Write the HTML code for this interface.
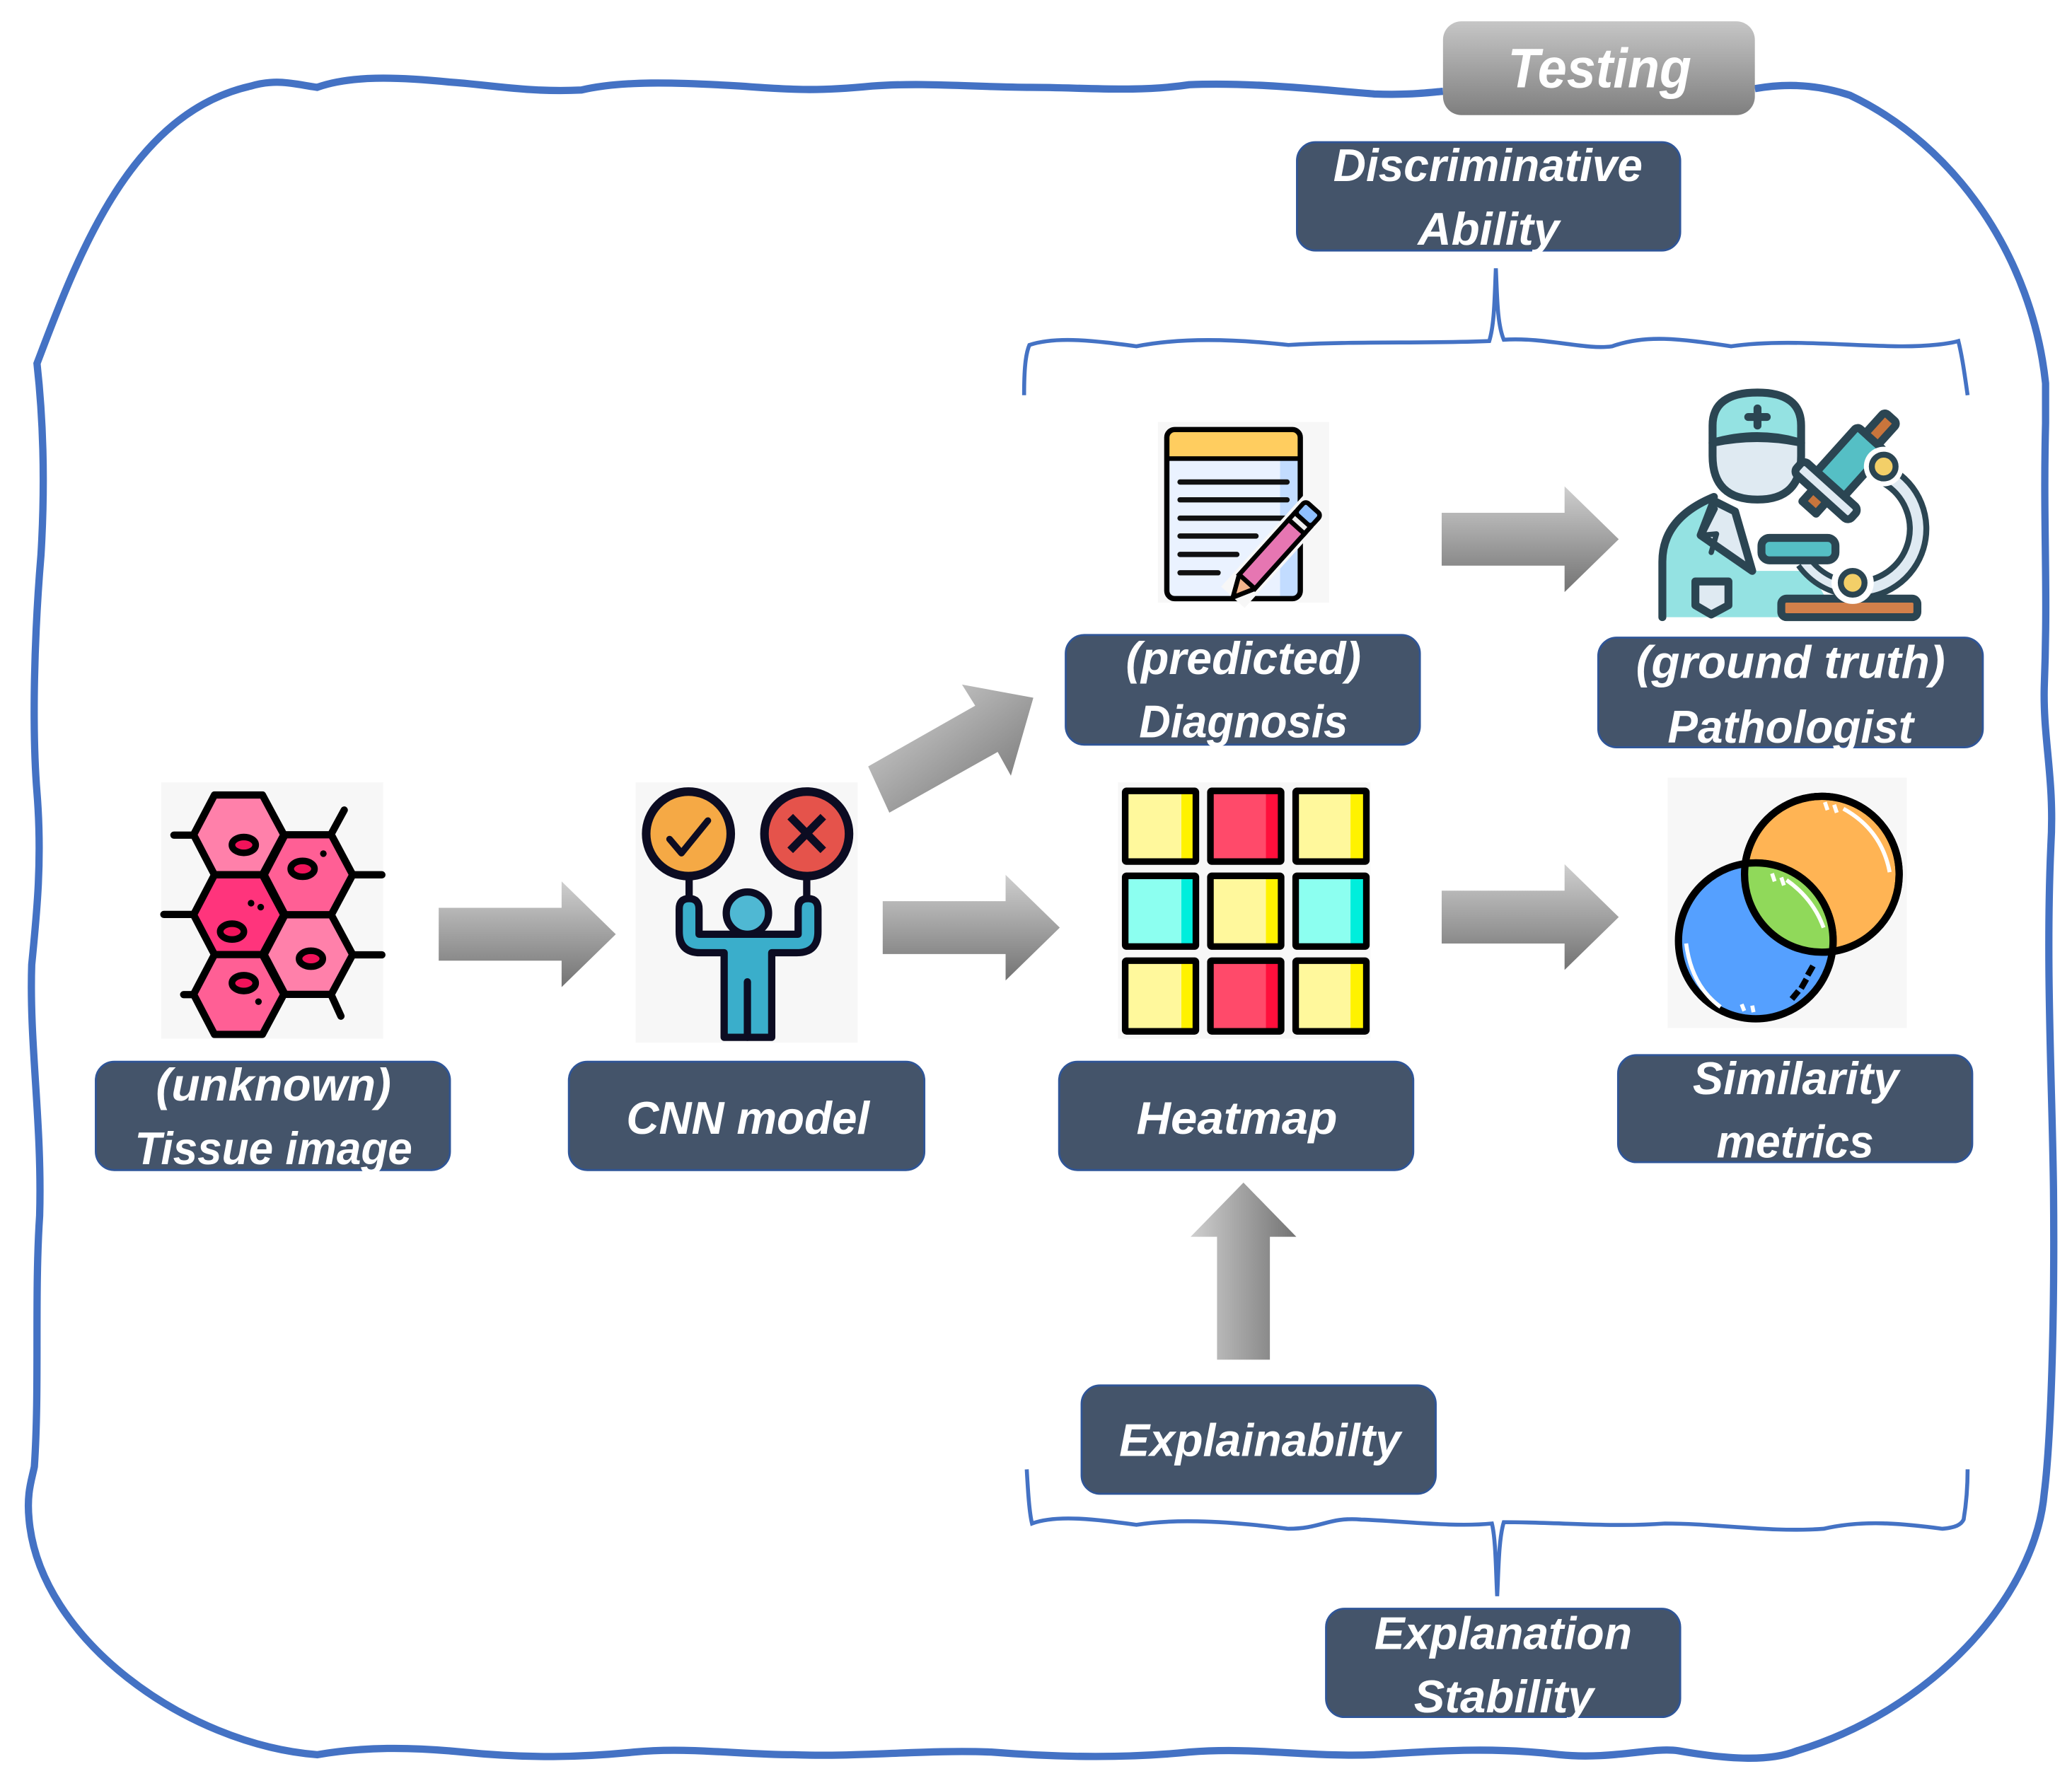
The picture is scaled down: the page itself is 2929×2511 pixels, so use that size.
<!DOCTYPE html>
<html><head><meta charset="utf-8"><style>
html,body{margin:0;padding:0;background:#fff}
svg{display:block}
text{font-family:"Liberation Sans",sans-serif;font-weight:bold;font-style:italic;fill:#fff;font-size:35px}
</style></head><body>
<svg xmlns="http://www.w3.org/2000/svg" width="2929" height="2511" viewBox="0 0 1568 1344">
<defs>
<linearGradient id="gv" x1="0" y1="0" x2="0" y2="1"><stop offset="0" stop-color="#cfcfcf"/><stop offset="1" stop-color="#737373"/></linearGradient>
<linearGradient id="gh" x1="0" y1="0" x2="1" y2="0"><stop offset="0" stop-color="#cfcfcf"/><stop offset="1" stop-color="#737373"/></linearGradient>
<linearGradient id="gd" x1="0.1" y1="0.1" x2="0.9" y2="0.9"><stop offset="0" stop-color="#cfcfcf"/><stop offset="1" stop-color="#787878"/></linearGradient>
<linearGradient id="gt" x1="0" y1="0" x2="0" y2="1"><stop offset="0" stop-color="#c6c6c6"/><stop offset="1" stop-color="#7f7f7f"/></linearGradient>
<clipPath id="orangeClip"><ellipse cx="1378.7" cy="661.6" rx="60" ry="60.5"/></clipPath>
</defs>

<!-- outer frame -->
<path fill="none" stroke="#4472c4" stroke-width="5.5" d="M1092 69 C1080 70 1065 72 1040 71 C1000 68 950 62 900 64 C860 70 820 66 780 66 C740 66 700 62 660 65 C620 69 600 68 560 65 C510 62 470 61 440 68 C400 70 370 64 340 62 C300 58 265 57 240 66 C225 64 210 59 190 65 C100 85 60 190 28 275 C33 320 34 370 31 420 C26 480 24 550 28 600 C32 650 28 690 24 730 C22 790 32 850 30 920 C26 980 30 1050 26 1110 C24 1120 20 1130 22 1150 C30 1240 140 1320 240 1328 C275 1322 310 1322 350 1326 C400 1331 440 1330 480 1326 C520 1322 560 1328 600 1328 C650 1330 700 1324 750 1326 C800 1330 850 1331 900 1326 C950 1322 990 1330 1040 1328 C1090 1325 1130 1322 1180 1328 C1220 1332 1250 1322 1270 1325 C1310 1332 1340 1333 1360 1325 C1460 1295 1540 1210 1547 1130 C1552 1090 1555 1000 1554 900 C1553 820 1548 730 1552 640 C1555 590 1546 560 1547 520 C1550 440 1546 400 1548 320 L1548 290 C1538 195 1480 110 1400 72 C1370 62 1345 64 1328 67"/>

<!-- braces -->
<path fill="none" stroke="#4472c4" stroke-width="3" d="M775 299 C775 280 776 268 779 261 C800 254 830 258 860 262 C890 256 930 256 975 261 C1020 258 1080 260 1127 258 C1131 245 1131 225 1132 203 C1133 225 1133 245 1138 257 C1170 255 1200 265 1220 262 C1245 253 1270 256 1310 262 C1350 256 1400 262 1440 262 C1460 262 1475 260 1482 258 C1485 270 1487 285 1489 299"/>
<path fill="none" stroke="#4472c4" stroke-width="3" d="M777 1112 C778 1130 779 1145 781 1153 C800 1146 830 1150 860 1154 C885 1150 920 1150 975 1157 C1000 1157 1005 1148 1030 1150 C1060 1151 1100 1156 1129 1153 C1132 1165 1132 1190 1133 1208 C1134 1190 1134 1165 1138 1152 C1180 1152 1220 1156 1260 1153 C1300 1153 1340 1160 1380 1157 C1410 1150 1440 1153 1470 1157 C1480 1156 1484 1154 1486 1150 C1488 1138 1489 1125 1489 1112"/>

<!-- arrows -->
<path fill="url(#gv)" d="M332 687H425V667L466 707L425 747V727H332Z"/>
<path fill="url(#gv)" d="M668 682H761V662L802 702L761 742V722H668Z"/>
<path fill="url(#gv)" d="M1091 388H1184V368L1225 408L1184 448V428H1091Z"/>
<path fill="url(#gv)" d="M1091 674H1184V654L1225 694L1184 734V714H1091Z"/>
<path fill="url(#gd)" d="M657 580L738 534L728 518L782 528L765 587L755 569L673 615Z"/>
<path fill="url(#gh)" d="M921 1029V936H901L941 895L981 936H961V1029Z"/>

<!-- cells icon -->
<rect x="122" y="592" width="168" height="194" fill="#f7f7f7"/>
<g stroke="#000" stroke-width="5.5" stroke-linecap="round" stroke-linejoin="round">
<path d="M131.6 632H146.5M250.7 631L260.5 613M267 662H289M124 692H146.5M267 722.6H289M139 752.7H146.5M250.7 753L258 769" fill="none"/>
<path fill="#ff80aa" d="M162.3 601.6H198.6L214.8 631.7L198.6 662H162.3L146.5 631.7Z"/>
<path fill="#ff5f95" d="M215.7 631.7H250.7L266.9 662L250.7 692.3H215.7L199.9 662Z"/>
<path fill="#ff347c" d="M162.3 662H198.6L214.8 692.3L198.6 722.4H162.3L146.5 692.3Z"/>
<path fill="#ff80aa" d="M215.7 692.3H250.7L266.9 722.4L250.7 752.5H215.7L199.9 722.4Z"/>
<path fill="#ff5f95" d="M162.3 722.4H198.6L214.8 752.5L198.6 782.8H162.3L146.5 752.5Z"/>
</g>
<g fill="#f0135a" stroke="#000" stroke-width="5">
<ellipse cx="184.5" cy="639.4" rx="9" ry="6"/>
<ellipse cx="229" cy="657.5" rx="9" ry="6"/>
<ellipse cx="175.6" cy="705" rx="9" ry="6"/>
<ellipse cx="235.3" cy="725.5" rx="9" ry="6"/>
<ellipse cx="184.5" cy="744" rx="9" ry="6"/>
</g>
<g fill="#000"><circle cx="244.7" cy="646" r="2.5"/><circle cx="190" cy="683.5" r="2.5"/><circle cx="197.3" cy="686.5" r="2.5"/><circle cx="195.6" cy="758" r="2.5"/></g>

<!-- CNN icon -->
<rect x="481" y="592" width="168" height="197" fill="#f7f7f7"/>
<g stroke="#0c0c22" stroke-width="5.5" stroke-linejoin="round" stroke-linecap="round">
<path d="M521.5 664V682M610.5 664V682" fill="none"/>
<circle cx="521" cy="631" r="32" fill="#f5a945" stroke-width="6.5"/>
<circle cx="610.5" cy="631" r="32" fill="#e5534b" stroke-width="6.5"/>
<path fill="#3aaecb" d="M514 688Q514 680 521.500 680Q529 680 529 688V707H604V688Q604 680 611.500 680Q619 680 619 688V705Q619 721 603 721H584V785H548V721H530Q514 721 514 705Z"/>
<circle cx="565.6" cy="691" r="16" fill="#4fb8d3"/>
<path d="M565.6 743V785" fill="none"/>
<path d="M506.7 635L515.7 645.6L535.7 621" fill="none" stroke-width="5"/>
<path d="M598 618L623 643.5M623 618L598 643.5" fill="none" stroke-width="6" stroke-linecap="butt"/>
</g>

<!-- notepad icon -->
<rect x="876.3" y="319.3" width="129.5" height="136.7" fill="#f7f7f7"/>
<rect x="883" y="325" width="101" height="128" rx="6" fill="#eaf2ff"/>
<rect x="968.7" y="346" width="15" height="106" fill="#c2dcff"/>
<path d="M883 346V331Q883 325 889 325H978Q984 325 984 331V346Z" fill="#ffcd5f"/>
<rect x="883" y="325" width="101" height="128" rx="6" fill="none" stroke="#000" stroke-width="4"/>
<path d="M883 347H984" stroke="#000" stroke-width="3.5"/>
<path d="M893 364.7H974M893 378.2H974M893 392.1H974M893 405.6H950.5M893 419.5H936M893 433.4H921.8" stroke="#111" stroke-width="4" stroke-linecap="round"/>
<g transform="translate(933 452) rotate(-48)">
<rect x="0" y="-12" width="93" height="24" fill="#f7f7f7"/>
<path d="M0 0L16 -8V8Z" fill="#f2b48a" stroke="#000" stroke-width="3.5" stroke-linejoin="round"/>
<rect x="16" y="-8" width="56" height="16" fill="#e676b2" stroke="#000" stroke-width="3.5"/>
<rect x="72" y="-8" width="7" height="16" fill="#eee" stroke="#000" stroke-width="3.5"/>
<rect x="79" y="-8" width="12" height="16" rx="3" fill="#8fc0ff" stroke="#000" stroke-width="3.5"/>
</g>

<!-- pathologist icon -->
<g stroke="#2b4552" stroke-width="6" stroke-linejoin="round" stroke-linecap="round">
<path fill="#94e2e2" d="M1258 467V425Q1258 392 1297 376L1326 432H1370L1390 467Z" stroke="none"/>
<path fill="none" d="M1258 467V425Q1258 392 1297 376"/>
<path fill="#dfeaf2" d="M1297 379L1313 387L1326 432L1287 405Z"/>
<path fill="none" d="M1298 385L1288 405L1299 404L1295 418" stroke-width="4"/>
<path fill="#dfeaf2" d="M1283 440H1308V458L1295 465L1283 458Z"/>
<path fill="#dfeaf2" d="M1296 335Q1330 328 1363 335V345Q1363 378 1330 378Q1296 378 1296 345Z"/>
<path fill="#94e2e2" d="M1296 335V322Q1296 297 1330 297Q1363 297 1363 322V335Q1330 325 1296 335Z"/>
<path fill="none" d="M1330 309V322M1323 315.5H1337"/>
<!-- arm -->
<path fill="none" stroke="#2b4552" stroke-width="17" stroke-linecap="butt" d="M1428 360A46 46 0 0 1 1402 446"/>
<path fill="none" stroke="#dfeaf2" stroke-width="8" stroke-linecap="butt" d="M1428 360A46 46 0 0 1 1402 446"/>
<path fill="none" stroke="#2b4552" stroke-width="14" stroke-linecap="butt" d="M1365 425Q1378 443 1402 446"/>
<path fill="none" stroke="#dfeaf2" stroke-width="6" stroke-linecap="butt" d="M1365 425Q1378 443 1402 446"/>
<!-- tube -->
<g transform="translate(1402 349) rotate(-48)">
<rect x="-28" y="-15" width="50" height="28" rx="3" fill="#55bfc5"/>
<rect x="22" y="-7" width="22" height="13" rx="3" fill="#c9753c"/>
<rect x="-48" y="-8" width="20" height="14" fill="#c9753c"/>
<rect x="-36" y="-28" width="12" height="56" rx="4" fill="#dfeaf2"/>
</g>
<rect x="1333" y="407" width="56" height="17" rx="6" fill="#55bfc5"/>
<rect x="1348" y="453" width="103" height="14" rx="4" fill="#d2804a"/>
<circle cx="1425.5" cy="353" r="15" fill="#fff" stroke="none"/>
<circle cx="1425.5" cy="353" r="9" fill="#f3cf68" stroke-width="4.5"/>
<circle cx="1402" cy="441" r="16" fill="#fff" stroke="none"/>
<circle cx="1402" cy="441" r="9" fill="#f3cf68" stroke-width="4.5"/>
</g>

<!-- heatmap icon -->
<rect x="846" y="592" width="191" height="194" fill="#f7f7f7"/>
<g stroke="none">
<rect x="852" y="599" width="53" height="53" fill="#fff89c"/><rect x="894" y="599" width="11" height="53" fill="#fff200"/>
<rect x="916" y="599" width="53" height="53" fill="#ff4a6a"/><rect x="958" y="599" width="11" height="53" fill="#ff0f3c"/>
<rect x="980.5" y="599" width="53" height="53" fill="#fff89c"/><rect x="1022" y="599" width="11.5" height="53" fill="#fff200"/>
<rect x="852" y="663" width="53" height="53" fill="#8cfff0"/><rect x="894" y="663" width="11" height="53" fill="#00eedc"/>
<rect x="916" y="663" width="53" height="53" fill="#fff89c"/><rect x="958" y="663" width="11" height="53" fill="#fff200"/>
<rect x="980.5" y="663" width="53" height="53" fill="#8cfff0"/><rect x="1022" y="663" width="11.5" height="53" fill="#00eedc"/>
<rect x="852" y="727" width="53" height="53" fill="#fff89c"/><rect x="894" y="727" width="11" height="53" fill="#fff200"/>
<rect x="916" y="727" width="53" height="53" fill="#ff4a6a"/><rect x="958" y="727" width="11" height="53" fill="#ff0f3c"/>
<rect x="980.5" y="727" width="53" height="53" fill="#fff89c"/><rect x="1022" y="727" width="11.5" height="53" fill="#fff200"/>
</g>
<g fill="none" stroke="#000" stroke-width="5">
<rect x="851.5" y="598.5" width="53.5" height="53.5" rx="1"/><rect x="916" y="598.5" width="53.5" height="53.5" rx="1"/><rect x="980.5" y="598.5" width="53.5" height="53.5" rx="1"/>
<rect x="851.5" y="662.8" width="53.5" height="53.5" rx="1"/><rect x="916" y="662.8" width="53.5" height="53.5" rx="1"/><rect x="980.5" y="662.8" width="53.5" height="53.5" rx="1"/>
<rect x="851.5" y="727" width="53.5" height="53.5" rx="1"/><rect x="916" y="727" width="53.5" height="53.5" rx="1"/><rect x="980.5" y="727" width="53.5" height="53.5" rx="1"/>
</g>

<!-- venn icon -->
<rect x="1262" y="588.5" width="181" height="189.5" fill="#f7f7f7"/>
<ellipse cx="1378.7" cy="661.6" rx="58.5" ry="59" fill="#ffb454" stroke="#000" stroke-width="5.5"/>
<ellipse cx="1328.7" cy="712" rx="58.5" ry="59" fill="#55a0ff" stroke="#000" stroke-width="5.5"/>
<g clip-path="url(#orangeClip)"><ellipse cx="1328.7" cy="712" rx="58.5" ry="59" fill="#90d95a" stroke="#000" stroke-width="5.5"/></g>
<ellipse cx="1378.7" cy="661.6" rx="58.5" ry="59" fill="none" stroke="#000" stroke-width="5.5"/>
<path d="M1395 612Q1424 628 1430 660M1352 666Q1372 680 1380 702M1276 714Q1280 746 1302 762" fill="none" stroke="#fff" stroke-width="3"/>
<path d="M1381 607L1383 613M1388 609L1390 615M1341 661L1343 667M1348 664L1350 670M1318 760L1320 765M1326 761L1327 766" stroke="#fff" stroke-width="3"/>
<path d="M1372 731L1368 738M1367 741L1363 748M1361 750L1356 756" stroke="#000" stroke-width="4.5"/>

<!-- boxes -->
<rect x="1092" y="16" width="236" height="71" rx="14" fill="url(#gt)"/>
<g fill="#44546a" stroke="#2f5597" stroke-width="1.5">
<rect x="981.5" y="107.5" width="290" height="82" rx="14"/>
<rect x="806.5" y="480.5" width="268" height="83" rx="14"/>
<rect x="1209.5" y="482.5" width="291" height="83" rx="14"/>
<rect x="72.5" y="803.5" width="268" height="82" rx="14"/>
<rect x="430.5" y="803.5" width="269" height="82" rx="14"/>
<rect x="801.5" y="803.5" width="268" height="82" rx="14"/>
<rect x="1224.5" y="798.5" width="268" height="81" rx="14"/>
<rect x="818.5" y="1048.5" width="268" height="82" rx="14"/>
<rect x="1003.5" y="1217.5" width="268" height="82" rx="14"/>
</g>

<!-- labels -->
<text x="1141" y="66" textLength="139" lengthAdjust="spacingAndGlyphs" style="font-size:42px">Testing</text>
<text x="1009" y="137" textLength="234" lengthAdjust="spacingAndGlyphs">Discriminative</text>
<text x="1073" y="185" textLength="107" lengthAdjust="spacingAndGlyphs">Ability</text>
<text x="852" y="510" textLength="178" lengthAdjust="spacingAndGlyphs">(predicted)</text>
<text x="862" y="558" textLength="158" lengthAdjust="spacingAndGlyphs">Diagnosis</text>
<text x="1238" y="513" textLength="234" lengthAdjust="spacingAndGlyphs">(ground truth)</text>
<text x="1262" y="562" textLength="186" lengthAdjust="spacingAndGlyphs">Pathologist</text>
<text x="118" y="833" textLength="178" lengthAdjust="spacingAndGlyphs">(unknown)</text>
<text x="102" y="881" textLength="210" lengthAdjust="spacingAndGlyphs">Tissue image</text>
<text x="474" y="858" textLength="184" lengthAdjust="spacingAndGlyphs">CNN model</text>
<text x="860" y="858" textLength="152" lengthAdjust="spacingAndGlyphs">Heatmap</text>
<text x="1281" y="828" textLength="156" lengthAdjust="spacingAndGlyphs">Similarity</text>
<text x="1299" y="876" textLength="119" lengthAdjust="spacingAndGlyphs">metrics</text>
<text x="847" y="1102" textLength="213" lengthAdjust="spacingAndGlyphs">Explainabilty</text>
<text x="1040" y="1248" textLength="195" lengthAdjust="spacingAndGlyphs">Explanation</text>
<text x="1070" y="1296" textLength="136" lengthAdjust="spacingAndGlyphs">Stability</text>
</svg>
</body></html>
